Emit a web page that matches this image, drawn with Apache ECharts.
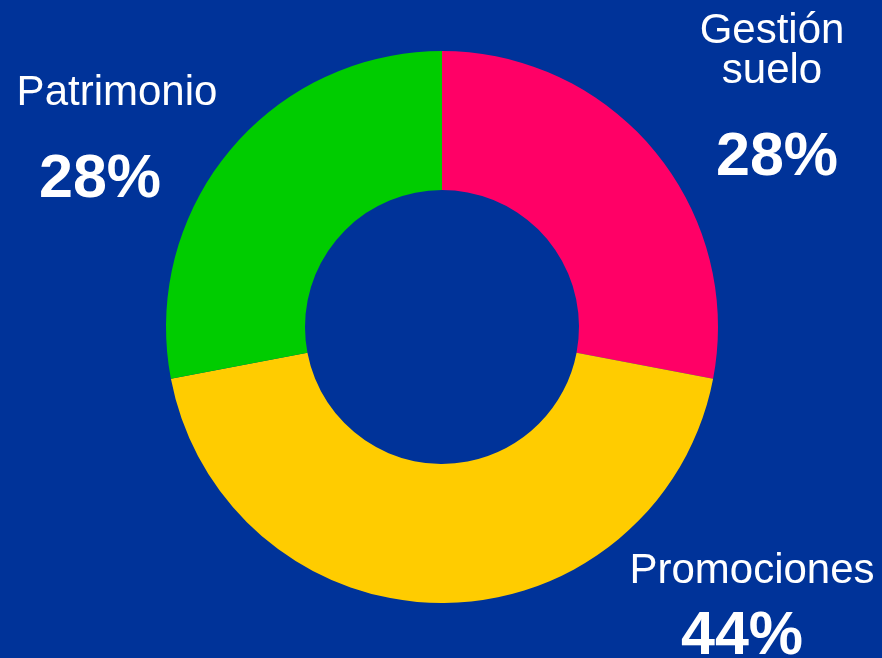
<!DOCTYPE html>
<html>
<head>
<meta charset="utf-8">
<script src="https://cdn.jsdelivr.net/npm/echarts@6/dist/echarts.min.js"></script>
<style>
  html, body { margin: 0; padding: 0; background: #003399; }
  #chart { width: 882px; height: 658px; }
</style>
</head>
<body>
<div id="chart"></div>
<script>
// Share of activity by business line (clockwise from 12 o'clock)
const categories = ['Gestión\nsuelo', 'Promociones', 'Patrimonio'];
const shares = [28, 44, 28];
const sliceColors = ['#FF0066', '#FFCC00', '#00CC00'];

// Label anchors (top edges): [name x, name top y, percent x, percent top y]
const labelSpots = [
  [772, 11, 777, 128],
  [752, 551, 742, 607],
  [117, 73, 100, 150]
];

const chart = echarts.init(document.getElementById('chart'), null, { renderer: 'canvas' });

const texts = [];
categories.forEach((name, i) => {
  const p = labelSpots[i];
  texts.push({
    type: 'text',
    x: p[0], y: p[1],
    style: {
      text: name,
      fill: '#ffffff',
      font: '42px "Liberation Sans", Arial, sans-serif',
      align: 'center',
      verticalAlign: 'top',
      lineHeight: 40
    }
  });
  texts.push({
    type: 'text',
    x: p[2], y: p[3],
    style: {
      text: shares[i] + '%',
      fill: '#ffffff',
      font: 'bold 61px "Liberation Sans", Arial, sans-serif',
      align: 'center',
      verticalAlign: 'top'
    }
  });
});

chart.setOption({
  backgroundColor: '#003399',
  animation: false,
  series: [{
    type: 'pie',
    center: [442, 327],
    radius: [137, 276],
    startAngle: 90,
    clockwise: true,
    label: { show: false },
    labelLine: { show: false },
    emphasis: { disabled: true },
    itemStyle: { borderWidth: 0 },
    data: categories.map((name, i) => ({
      name: name,
      value: shares[i],
      itemStyle: { color: sliceColors[i] }
    }))
  }],
  graphic: texts
});
</script>
</body>
</html>
